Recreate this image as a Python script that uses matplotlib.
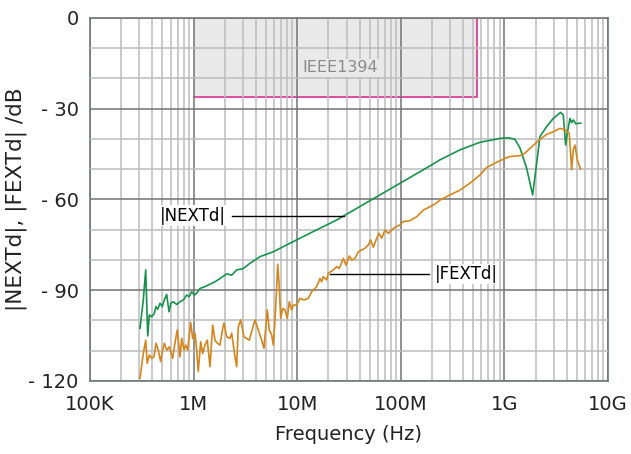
import numpy as np
import matplotlib
matplotlib.use("Agg")
from matplotlib import pyplot as plt
from matplotlib.ticker import FixedLocator, LogLocator, NullFormatter

# frequency in MHz, level in dB
next_freq = [0.304, 0.327, 0.345, 0.361, 0.374, 0.394, 0.415, 0.434, 0.450, 0.474,
             0.499, 0.522, 0.550, 0.579, 0.605, 0.637, 0.687, 0.739, 0.796, 0.858,
             0.908, 0.959, 1.016, 1.071, 1.153, 1.289, 1.440, 1.610, 1.799, 2.087,
             2.333, 2.608, 3.020, 3.503, 4.375, 5.878, 7.92, 10.65, 14.30, 24.0,
             191.4, 238.8, 372.4, 580.8, 907, 1091, 1265, 1415, 1642, 1876,
             1974, 2207, 2560, 2966, 3494, 3702, 3905, 4046, 4296, 4462,
             4627, 4912, 5167, 5451]
next_db = [-102.6, -93.2, -83.3, -105.1, -98.2, -98.7, -97.9, -95.4, -96.3, -94.3,
           -95.4, -93.2, -91.4, -97.1, -94.3, -93.8, -94.7, -93.8, -93.2, -91.6,
           -92.1, -90.5, -91.6, -91.0, -89.4, -88.8, -88.0, -87.2, -86.1, -84.6,
           -85.0, -83.3, -82.8, -81.1, -78.9, -77.3, -75.0, -72.8, -70.6, -66.8,
           -48.9, -46.9, -43.6, -41.1, -39.8, -39.6, -40.1, -43.0, -49.7, -58.5,
           -52.5, -39.2, -35.9, -33.2, -31.2, -32.1, -42.0, -38.1, -33.2, -34.6,
           -33.7, -35.0, -34.8, -34.8]

fext_freq = [0.304, 0.327, 0.345, 0.357, 0.374, 0.394, 0.415, 0.434, 0.456, 0.481,
             0.499, 0.522, 0.550, 0.583, 0.628, 0.661, 0.696, 0.739, 0.768, 0.808,
             0.839, 0.877, 0.938, 0.980, 1.032, 1.071, 1.110, 1.171, 1.224, 1.288,
             1.356, 1.440, 1.529, 1.609, 1.693, 1.798, 1.910, 1.966, 2.087, 2.246,
             2.333, 2.509, 2.606, 2.701, 2.849, 3.066, 3.255, 3.448, 3.637, 3.914,
             4.212, 4.543, 4.781, 5.145, 5.380, 5.675, 5.881, 6.107, 6.342, 6.485,
             6.720, 6.932, 7.244, 7.624, 8.024, 8.389, 8.849, 9.171, 9.890, 10.64,
             11.63, 12.80, 13.80, 15.43, 16.60, 17.24, 17.86, 19.26, 19.96, 22.31,
             24.06, 25.49, 27.86, 29.58, 31.84, 33.58, 36.14, 38.88, 41.94, 45.11,
             48.57, 51.23, 54.28, 58.53, 62.01, 65.42, 70.40, 75.74, 81.71, 87.90,
             98.2, 105.7, 122.7, 142.4, 164.9, 191.4, 213.9, 238.9, 298.5, 372.8,
             465.6, 581.4, 674.9, 811.6, 1013, 1133, 1414, 1580, 1766, 2206,
             2560, 2965, 3441, 3845, 4230, 4462, 4624, 4803, 5053, 5451]
fext_db = [-119.1, -110.9, -106.5, -114.2, -111.4, -112.5, -112.0, -107.5, -109.8, -113.6,
           -110.3, -107.5, -109.8, -108.7, -112.5, -107.5, -103.1, -112.0, -105.9, -109.8,
           -108.1, -109.8, -100.7, -105.9, -104.2, -109.8, -116.9, -107.0, -110.9, -108.1,
           -106.5, -115.3, -101.5, -106.5, -107.5, -108.1, -102.6, -100.9, -105.4, -105.9,
           -104.2, -112.0, -115.3, -102.1, -99.8, -105.4, -105.9, -106.5, -103.7, -99.8,
           -103.1, -106.5, -109.2, -96.5, -103.1, -104.8, -108.1, -99.8, -88.8, -81.4,
           -88.8, -99.3, -96.0, -96.5, -99.3, -93.8, -96.5, -94.9, -94.9, -92.7,
           -93.2, -92.7, -90.5, -88.8, -86.1, -87.2, -85.5, -86.6, -84.4, -83.3,
           -82.2, -82.8, -79.5, -81.7, -78.7, -80.0, -79.5, -77.3, -76.7, -76.1,
           -75.0, -73.4, -75.8, -72.8, -71.2, -72.8, -70.1, -71.2, -70.1, -69.2,
           -68.4, -67.3, -67.0, -65.7, -63.5, -62.4, -61.5, -60.2, -58.5, -56.9,
           -54.6, -51.9, -49.4, -48.0, -46.4, -45.8, -45.5, -44.7, -43.1, -40.1,
           -38.5, -37.6, -36.5, -37.0, -38.1, -50.2, -43.6, -42.0, -46.9, -50.0]

# IEEE1394 mask (MHz, dB)
mask_f0, mask_f1 = 1.0, 540.0
mask_db = -26

x_ticks = [0.1, 1, 10, 100, 1000, 10000]
x_labels = ["100K", "1M", "10M", "100M", "1G", "10G"]
y_ticks = [0, -30, -60, -90, -120]
y_labels = ["0", "- 30", "- 60", "- 90", "- 120"]

plt.rcParams["font.family"] = ["DejaVu Sans"]

fig = plt.figure(figsize=(6.31, 4.54), dpi=100)
ax = fig.add_axes([0.1426, 0.1608, 0.8209, 0.7996])

ax.set_xscale("log")
ax.set_xlim(0.1, 10000)
ax.set_ylim(-120, 0)

# mask region
ax.fill_between([mask_f0, mask_f1], [mask_db, mask_db], [0, 0], color="#e9e9e9", zorder=0)
ax.plot([mask_f0, mask_f1, mask_f1], [mask_db, mask_db, 0], color="#e0409a", lw=1.3, zorder=2)
ax.text(26, -16.5, "IEEE1394", color="#8a8a8a", fontsize=11.5, ha="center", va="center",
        bbox=dict(facecolor="#e9e9e9", edgecolor="none", pad=1), zorder=3)

# grid
ax.xaxis.set_major_locator(FixedLocator(x_ticks))
ax.xaxis.set_minor_locator(LogLocator(base=10, subs=np.arange(2, 10)))
ax.xaxis.set_minor_formatter(NullFormatter())
ax.yaxis.set_major_locator(FixedLocator(y_ticks))
ax.yaxis.set_minor_locator(FixedLocator([-10, -20, -40, -50, -70, -80, -100, -110]))
ax.grid(True, which="major", color="#737373", lw=1.1, zorder=1)
ax.grid(True, which="minor", color="#bcbcbc", lw=1.1, zorder=1)
ax.set_axisbelow(False)

ax.plot(next_freq, next_db, color="#17924a", lw=1.2, zorder=4)
ax.plot(fext_freq, fext_db, color="#d4861c", lw=1.2, zorder=4)

# curve labels
ax.plot([2.33, 28.3], [-65.3, -65.3], color="black", lw=1, zorder=5)
ax.text(2.06, -65.3, "|NEXTd|", fontsize=12, ha="right", va="center",
        bbox=dict(facecolor="white", edgecolor="none", pad=1), zorder=5)
ax.plot([20.7, 187], [-84.6, -84.6], color="black", lw=1, zorder=5)
ax.text(214, -84.6, "|FEXTd|", fontsize=12, ha="left", va="center",
        bbox=dict(facecolor="white", edgecolor="none", pad=1), zorder=5)

ax.set_xticks(x_ticks)
ax.set_xticklabels(x_labels)
ax.set_yticks(y_ticks)
ax.set_yticklabels(y_labels)
ax.tick_params(which="both", length=0, labelsize=14, colors="#222222")
ax.tick_params(axis="x", pad=10)
ax.tick_params(axis="y", pad=8)
for s in ax.spines.values():
    s.set_color("#6b7b73")
    s.set_linewidth(1.2)

ax.set_xlabel("Frequency (Hz)", fontsize=14, color="#222222", labelpad=8)
ax.set_ylabel("|NEXTd|, |FEXTd| /dB", fontsize=15.5, color="#222222", labelpad=1)

fig.savefig("out.png", dpi=100)
